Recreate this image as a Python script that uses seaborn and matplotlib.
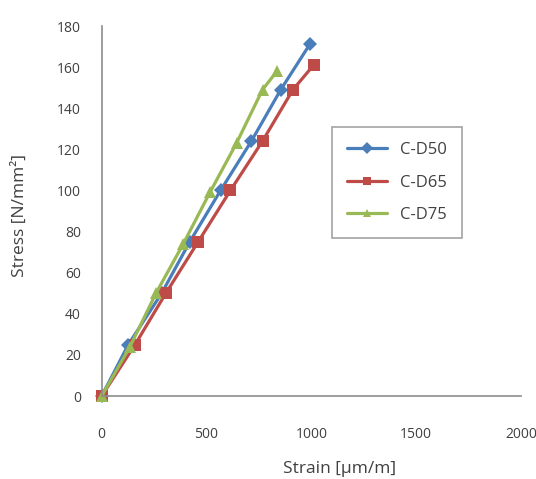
import matplotlib
matplotlib.use("Agg")
import matplotlib.pyplot as plt
import seaborn as sns
import pandas as pd

series = ["C-D50", "C-D65", "C-D75"]
strain_d50 = [0, 127, 286, 420, 567, 714, 854, 992]
stress_d50 = [0, 25, 50, 75, 100, 124, 149, 171]
strain_d65 = [0, 159, 306, 460, 614, 767, 912, 1011]
stress_d65 = [0, 25, 50, 75, 100, 124, 149, 161]
strain_d75 = [0, 135, 259, 389, 516, 643, 767, 836]
stress_d75 = [0, 24, 50, 74, 99, 123, 149, 158]
x_ticks = [0, 500, 1000, 1500, 2000]
y_ticks = [0, 20, 40, 60, 80, 100, 120, 140, 160, 180]

rows = []
for name, xs, ys in zip(series, [strain_d50, strain_d65, strain_d75],
                        [stress_d50, stress_d65, stress_d75]):
    for i, (a, b) in enumerate(zip(xs, ys)):
        rows.append({"Series": name, "Strain": a, "Stress": b, "idx": i})
df = pd.DataFrame(rows)

sns.set_theme(style="white")
plt.rcParams["font.family"] = ["Open Sans", "DejaVu Sans"]

colors = {"C-D50": "#4A7EBB", "C-D65": "#BE4B48", "C-D75": "#98B954"}
markers = {"C-D50": "D", "C-D65": "s", "C-D75": "^"}
msize = {"C-D50": 7, "C-D65": 8.5, "C-D75": 9}

fig = plt.figure(figsize=(5.36, 4.79), dpi=100)
ax_l, ax_r, ax_t, ax_b = 101.7, 521.0, 26.0, 396.0
ax = fig.add_axes([ax_l / 536, 1 - ax_b / 479, (ax_r - ax_l) / 536, (ax_b - ax_t) / 479])

for name in series:
    sub = df[df["Series"] == name]
    sns.lineplot(data=sub, x="Strain", y="Stress", ax=ax, color=colors[name],
                 marker=markers[name], markersize=msize[name], linewidth=2.3,
                 markeredgewidth=0, label=name, sort=False, estimator=None)

ax.set_xlim(0, 2000)
ax.set_ylim(0, 180)
ax.set_xticks(x_ticks)
ax.set_yticks(y_ticks)
ax.set_xticklabels([str(t) for t in x_ticks])
ax.set_yticklabels([str(t) for t in y_ticks])

for s in ["top", "right"]:
    ax.spines[s].set_visible(False)
for s in ["left", "bottom"]:
    ax.spines[s].set_color("#8c8c8c")
    ax.spines[s].set_linewidth(1.2)
ax.tick_params(axis="both", direction="in", length=7, width=1.2, color="#8c8c8c",
               labelsize=10, labelcolor="#404040")
ax.tick_params(axis="y", pad=15)
ax.tick_params(axis="x", pad=22)
for line in ax.lines:
    line.set_clip_on(False)

ax.set_xlabel("Strain [μm/m]", fontsize=12.5, color="#404040")
ax.set_ylabel("Stress [N/mm²]", fontsize=12.5, color="#404040")
ax.xaxis.set_label_coords((340 - ax_l) / (ax_r - ax_l), -(461 - ax_b) / (ax_b - ax_t))
ax.yaxis.set_label_coords(-(ax_l - 28) / (ax_r - ax_l), 0.487)

leg = ax.legend(loc="upper left", bbox_to_anchor=(331.7 / 536, 1 - 127 / 479),
                bbox_transform=fig.transFigure, frameon=True, fancybox=False,
                fontsize=12, handlelength=2.4, labelspacing=1.0,
                borderpad=0.9, handletextpad=0.8, borderaxespad=0)
leg.get_frame().set_edgecolor("#8c8c8c")
leg.get_frame().set_linewidth(1.2)
for t in leg.get_texts():
    t.set_color("#404040")
for h in leg.legend_handles:
    h.set_markersize(6)

fig.savefig("out.png", dpi=100)
